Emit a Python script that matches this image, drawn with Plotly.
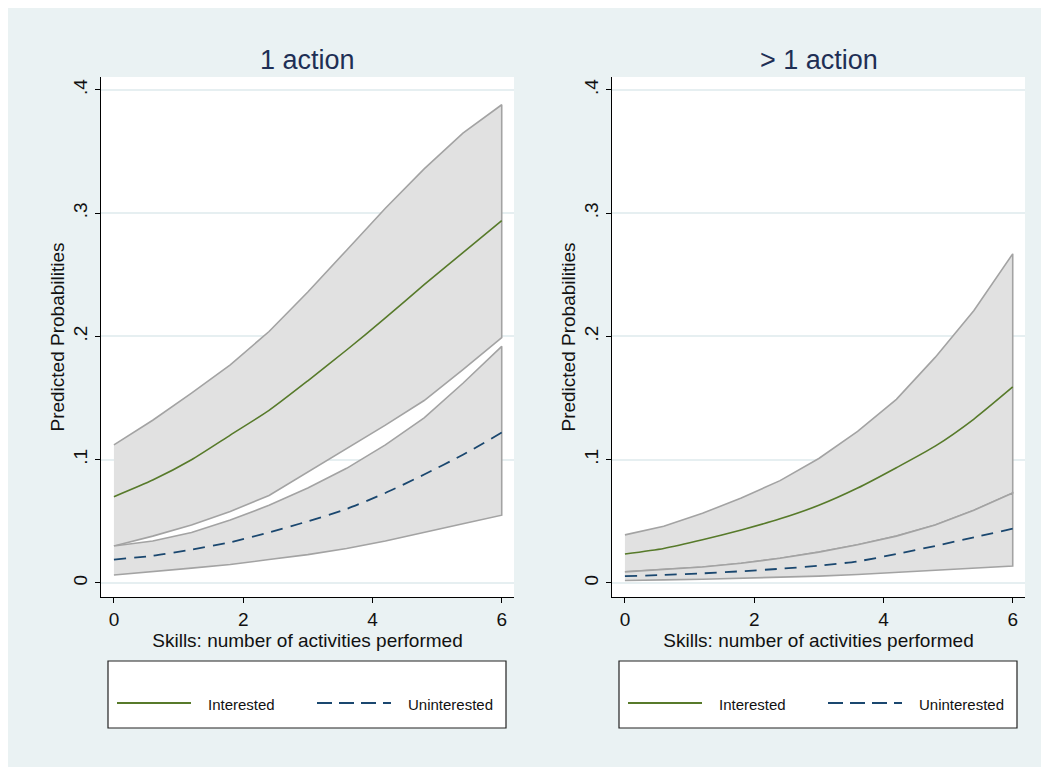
import plotly.graph_objects as go

# ---------------- data ----------------
skills = [0, 0.6, 1.2, 1.8, 2.4, 3.0, 3.6, 4.2, 4.8, 5.4, 6.0]

# panel 1: "1 action"
int_mean_1 = [0.070, 0.0835, 0.100, 0.120, 0.140, 0.164, 0.189, 0.215, 0.242, 0.268, 0.294]
int_lo_1 = [0.030, 0.038, 0.047, 0.058, 0.071, 0.090, 0.109, 0.128, 0.148, 0.173, 0.199]
int_hi_1 = [0.112, 0.132, 0.154, 0.177, 0.204, 0.236, 0.270, 0.304, 0.336, 0.365, 0.388]
unint_mean_1 = [0.019, 0.022, 0.027, 0.033, 0.041, 0.050, 0.060, 0.073, 0.088, 0.104, 0.122]
unint_lo_1 = [0.0065, 0.009, 0.012, 0.015, 0.019, 0.023, 0.028, 0.034, 0.041, 0.048, 0.055]
unint_hi_1 = [0.030, 0.034, 0.041, 0.051, 0.063, 0.077, 0.093, 0.112, 0.134, 0.162, 0.192]

# panel 2: "> 1 action" (bands overlap; only one middle boundary is visible)
int_mean_2 = [0.0235, 0.028, 0.035, 0.043, 0.052, 0.063, 0.077, 0.0935, 0.111, 0.133, 0.159]
int_lo_2 = [0.009, 0.011, 0.013, 0.016, 0.020, 0.025, 0.031, 0.038, 0.047, 0.059, 0.073]
int_hi_2 = [0.039, 0.046, 0.0565, 0.069, 0.083, 0.101, 0.123, 0.149, 0.183, 0.221, 0.267]
unint_mean_2 = [0.0055, 0.0065, 0.0078, 0.0095, 0.0115, 0.014, 0.0175, 0.0235, 0.030, 0.037, 0.044]
unint_lo_2 = [0.002, 0.0025, 0.003, 0.0036, 0.0045, 0.0055, 0.0068, 0.0085, 0.010, 0.012, 0.0138]
unint_hi_2 = [0.009, 0.011, 0.013, 0.016, 0.020, 0.025, 0.031, 0.038, 0.047, 0.059, 0.073]

panel_titles = ["1 action", "> 1 action"]
series_names = ["Interested", "Uninterested"]
x_ticks = [0, 2, 4, 6]
y_ticks = [0, 0.1, 0.2, 0.3, 0.4]
y_ticktext = ["0", ".1", ".2", ".3", ".4"]
x_title = "Skills: number of activities performed"
y_title = "Predicted Probabilities"

# ---------------- styles ----------------
PAGE_OFF = 8               # browser body margin
W, H = 1049 - PAGE_OFF, 767 - PAGE_OFF
FONT = "Liberation Sans, Arial, sans-serif"
BG = "#EAF2F3"
GRID = "#E6EFF1"
BAND_FILL = "#E1E1E1"
BAND_LINE = "#A3A3A3"
GREEN = "#577A2A"
NAVY = "#1A476F"
TITLE_C = "#1E2F55"

def px(x):
    """page pixel x -> paper fraction"""
    return (x - PAGE_OFF) / W

def py(y):
    """page pixel y -> paper fraction"""
    return 1 - (y - PAGE_OFF) / H

fig = go.Figure()

panels = [
    (int_mean_1, int_lo_1, int_hi_1, unint_mean_1, unint_lo_1, unint_hi_1, "x", "y"),
    (int_mean_2, int_lo_2, int_hi_2, unint_mean_2, unint_lo_2, unint_hi_2, "x2", "y2"),
]

for (im, il, ih, um, ul, uh, xa, ya) in panels:
    for lo, hi in ((il, ih), (ul, uh)):
        fig.add_trace(go.Scatter(
            x=skills + skills[::-1], y=hi + lo[::-1],
            fill="toself", fillcolor=BAND_FILL, mode="lines",
            line=dict(color=BAND_LINE, width=1.6),
            xaxis=xa, yaxis=ya, showlegend=False, hoverinfo="skip"))
    fig.add_trace(go.Scatter(
        x=skills, y=im, mode="lines", name=series_names[0],
        line=dict(color=GREEN, width=1.6, shape="spline", smoothing=0.6),
        xaxis=xa, yaxis=ya, showlegend=False))
    fig.add_trace(go.Scatter(
        x=skills, y=um, mode="lines", name=series_names[1],
        line=dict(color=NAVY, width=1.8, dash="12px,8px", shape="spline", smoothing=0.6),
        xaxis=xa, yaxis=ya, showlegend=False))

# plot-area positions (page pixels)
left_dom = [px(101), px(514)]
right_dom = [px(612), px(1025)]
y_dom = [py(597), py(77)]

axis_common_x = dict(
    range=[-0.2, 6.19], tickvals=x_ticks, ticktext=[str(v) for v in x_ticks],
    showline=True, linecolor="black", linewidth=1.2, mirror=False,
    ticks="outside", ticklen=5, tickcolor="black", tickwidth=1.2,
    showgrid=False, zeroline=False,
    tickfont=dict(family=FONT, size=19, color="#111111"),
    title=dict(text=x_title, font=dict(family=FONT, size=19, color="#111111"), standoff=2),
    fixedrange=True,
)
axis_common_y = dict(
    range=[-0.0114, 0.4105], tickvals=y_ticks, ticktext=y_ticktext, tickangle=-90,
    showline=True, linecolor="black", linewidth=1.2, mirror=False,
    ticks="outside", ticklen=5, tickcolor="black", tickwidth=1.2,
    showgrid=True, gridcolor=GRID, gridwidth=2, zeroline=False,
    tickfont=dict(family=FONT, size=19, color="#111111"),
    title=dict(text=y_title, font=dict(family=FONT, size=19, color="#111111"), standoff=0),
    fixedrange=True,
)

fig.update_layout(
    width=W, height=H,
    margin=dict(l=0, r=0, t=0, b=0),
    paper_bgcolor=BG, plot_bgcolor="white",
    font=dict(family=FONT, color="#111111"),
    showlegend=False,
    xaxis=dict(domain=left_dom, anchor="y", **axis_common_x),
    yaxis=dict(domain=y_dom, anchor="x", **axis_common_y),
    xaxis2=dict(domain=right_dom, anchor="y2", **axis_common_x),
    yaxis2=dict(domain=y_dom, anchor="x2", **axis_common_y),
)

shapes = []
annotations = []

# panel titles
for title, dom in zip(panel_titles, (left_dom, right_dom)):
    annotations.append(dict(
        text=title, xref="paper", yref="paper", x=(dom[0] + dom[1]) / 2, y=py(60),
        xanchor="center", yanchor="middle", showarrow=False,
        font=dict(family=FONT, size=27, color=TITLE_C)))

# legends (Stata-style boxed legend under each panel)
for off in (0, 511):
    shapes.append(dict(type="rect", xref="paper", yref="paper",
                       x0=px(108 + off), x1=px(506 + off), y0=py(728), y1=py(661),
                       fillcolor="white", line=dict(color="#222222", width=1.2)))
    shapes.append(dict(type="line", xref="paper", yref="paper",
                       x0=px(117 + off), x1=px(191 + off), y0=py(703), y1=py(703),
                       line=dict(color=GREEN, width=1.8)))
    shapes.append(dict(type="line", xref="paper", yref="paper",
                       x0=px(317 + off), x1=px(391 + off), y0=py(703), y1=py(703),
                       line=dict(color=NAVY, width=1.8, dash="15px,7px")))
    annotations.append(dict(text=series_names[0], xref="paper", yref="paper",
                            x=px(206 + off), y=py(704), xanchor="left", yanchor="middle",
                            showarrow=False, font=dict(family=FONT, size=15, color="#111111")))
    annotations.append(dict(text=series_names[1], xref="paper", yref="paper",
                            x=px(406 + off), y=py(704), xanchor="left", yanchor="middle",
                            showarrow=False, font=dict(family=FONT, size=15, color="#111111")))

fig.update_layout(shapes=shapes, annotations=annotations)

fig.write_html("out.html")
